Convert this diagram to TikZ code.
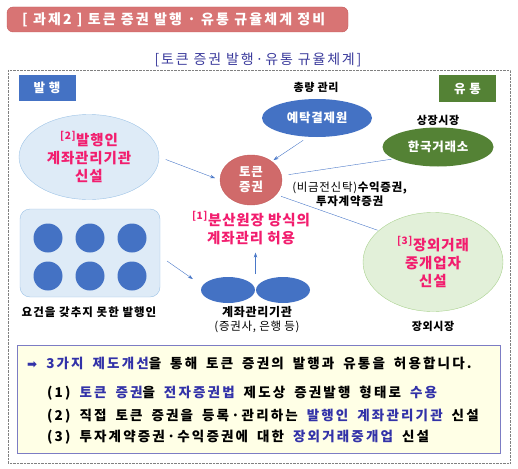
\documentclass[tikz,border=0pt]{standalone}
\usepackage{fontspec}
\setmainfont{Noto Sans CJK KR}[LetterSpace=6]
\newfontfamily\symfont{DejaVu Sans}
\usetikzlibrary{shapes.geometric,arrows.meta}
\definecolor{titlered}{HTML}{D87474}
\definecolor{titleedge}{HTML}{C45A5A}
\definecolor{navy}{HTML}{3B3B9C}
\definecolor{boxblue}{HTML}{4472C4}
\definecolor{boxgreen}{HTML}{548235}
\definecolor{paleblue}{HTML}{DEEBF7}
\definecolor{paleblueedge}{HTML}{9DC3E6}
\definecolor{palegreen}{HTML}{E2F0D9}
\definecolor{palegreenedge}{HTML}{A9D18E}
\definecolor{tokenred}{HTML}{D06A6A}
\definecolor{hotpink}{HTML}{F21D6E}
\definecolor{linkblue}{HTML}{4A78C8}
\definecolor{noteyellow}{HTML}{FFFFE6}
\definecolor{noteedge}{HTML}{7C7CC4}
\definecolor{notetext}{HTML}{3232A8}
\newcommand\wordgap{\spaceskip=9pt\relax}

\begin{document}
\begin{tikzpicture}[x=1pt, y=-1pt, every node/.style={font=\small, inner sep=0pt},
  arr/.style={draw=linkblue, -{Stealth[length=5pt,width=3.5pt]}},
  link/.style={draw=linkblue},
  tag/.style={text=white, font=\bfseries\fontsize{12.5}{14}\selectfont, minimum width=57pt, minimum height=26pt},
  lbl/.style={font=\bfseries\fontsize{11}{13}\selectfont},
  pink/.style={text=hotpink, align=center, font=\bfseries\fontsize{14.5}{18}\selectfont},
  wide/.style={font={\bfseries\fontsize{13.5}{15}\selectfont\addfontfeature{LetterSpace=16}\wordgap}},
  hl/.style={text=notetext}]
  \useasboundingbox (0,0) rectangle (518,468);
  % title banner
  \draw[fill=titlered, draw=titleedge, rounded corners=6pt] (7,7) rectangle (348,32);
  \node[anchor=west, text=white, font=\bfseries\fontsize{14}{16}\selectfont\addfontfeature{LetterSpace=15}] (title) at (22,19.5)
    {[ 과제2 ] 토큰 증권 발행 · 유통 규율체계 정비};
  \node[text=navy, font=\fontsize{14}{16}\selectfont\addfontfeature{LetterSpace=13}] (subtitle) at (258,60) {[토큰 증권 발행·유통 규율체계]};
  % dotted frame
  \draw[gray, densely dotted] (8,70) rectangle (510,463);
  \node[tag, fill=boxblue] (issue) at (47,88) {발 행};
  \node[tag, fill=boxgreen] (trade) at (467.5,88.5) {유 통};
  % issuer side
  \node[ellipse, fill=paleblue, draw=paleblueedge, minimum width=140pt, minimum height=85pt, pink] (acctinst) at (89,157)
    {\textsuperscript{[2]}발행인\\계좌관리기관\\신설};
  \node[ellipse, fill=tokenred, draw=titleedge, minimum width=62pt, minimum height=50pt, text=white, align=center,
    font=\bfseries\fontsize{12.5}{15}\selectfont] (token) at (251,180) {토큰\\증권};
  \node[pink] (rule) at (251,228) {\textsuperscript{[1]}분산원장 방식의\\계좌관리 허용};
  \draw[fill=paleblue, draw=paleblueedge, rounded corners=10pt] (20,209) rectangle (160,297);
  \node (issuers) at (90,253) {};
  \foreach \cx in {48,90,132}
    \foreach \cy in {238,276}
      \fill[boxblue] (\cx,\cy) circle (14.5);
  \node[lbl, font=\bfseries\fontsize{11.5}{13}\selectfont\addfontfeature{LetterSpace=9}] (issuerlbl) at (89,312) {요건을 갖추지 못한 발행인};
  \node[ellipse, fill=boxblue, minimum width=54pt, minimum height=26pt] (bankA) at (228,290) {};
  \node[ellipse, fill=boxblue, minimum width=54pt, minimum height=26pt] (bankB) at (283,290) {};
  \coordinate (bankjoin) at (255.5,276);
  \node[lbl, font=\bfseries\fontsize{12}{14}\selectfont] (banklbl) at (257,312) {계좌관리기관};
  \node[font=\fontsize{11.5}{13}\selectfont] (banknote) at (257,327) {(증권사, 은행 등)};
  % distribution side
  \node[lbl] (ksdlbl) at (316,87) {총량 관리};
  \node[ellipse, fill=boxblue, minimum width=110pt, minimum height=38pt, text=white,
    font=\bfseries\fontsize{12.5}{14}\selectfont] (ksd) at (317,118) {예탁결제원};
  \node[lbl] (krxlbl) at (438,120) {상장시장};
  \node[ellipse, fill=boxgreen, minimum width=111pt, minimum height=39pt, text=white,
    font=\bfseries\fontsize{12.5}{14}\selectfont] (krx) at (438,147) {한국거래소};
  \node[align=center, font=\fontsize{11.5}{14}\selectfont] (kinds) at (350,194)
    {(비금전신탁)\textbf{수익증권,}\\\textbf{투자계약증권}};
  \node[ellipse, fill=palegreen, draw=palegreenedge, minimum width=140pt, minimum height=99pt, pink] (otc) at (433,262)
    {\textsuperscript{[3]}장외거래\\중개업자\\신설};
  \node[lbl] (otclbl) at (433,326) {장외시장};
  % connectors
  \draw[arr, shorten <=7pt, shorten >=5pt] (acctinst.east) -- (token.west);
  \draw[arr, shorten <=6pt, shorten >=2pt] (ksd.245) -- (token.42);
  \draw[link, shorten <=2pt, shorten >=7pt] (krx.195) -- (token.8);
  \draw[link, shorten <=5pt, shorten >=1pt] (token.-30) -- (otc.150);
  \draw[arr] ([shift={(7pt,-8pt)}]issuers.east -| 160,0) -- ([shift={(-8pt,11pt)}]bankA.west);
  \draw[arr, shorten <=2pt, shorten >=8pt] (bankjoin) -- (rule.south -| bankjoin);
  % summary box
  \draw[fill=noteyellow, draw=noteedge] (17,345) rectangle (500,453);
  \node[anchor=west, wide] (line0) at (27,363)
    {{\color{notetext}\symfont\fontsize{12}{14}\selectfont ➡} \textcolor{notetext}{3가지 제도개선}을 통해 토큰 증권의 발행과 유통을 허용합니다.};
  \node[anchor=west, wide] (line1) at (47,393)
    {(1) \textcolor{notetext}{토큰 증권}을 \textcolor{notetext}{전자증권법} 제도상 증권발행 형태로 \textcolor{notetext}{수용}};
  \node[anchor=west, wide] (line2) at (47,416)
    {(2) 직접 토큰 증권을 등록·관리하는 \textcolor{notetext}{발행인 계좌관리기관} 신설};
  \node[anchor=west, wide] (line3) at (47,437)
    {(3) 투자계약증권·수익증권에 대한 \textcolor{notetext}{장외거래중개업} 신설};
\end{tikzpicture}
\end{document}
